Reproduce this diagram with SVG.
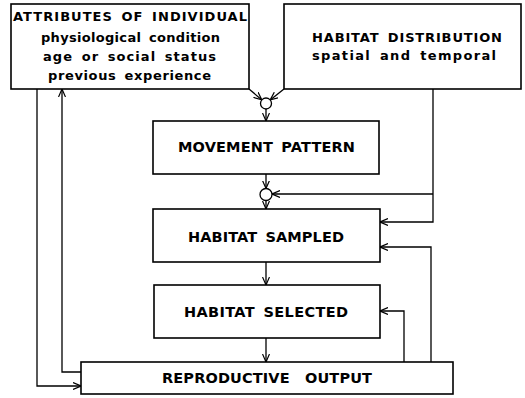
<svg xmlns="http://www.w3.org/2000/svg" width="525" height="398" viewBox="0 0 525 398">
<style>
rect.box{fill:#fff;stroke:#000;stroke-width:1.6}
text{font-family:"DejaVu Sans","Liberation Sans",sans-serif;font-weight:bold;fill:#000;word-spacing:3px}
.t1{font-size:13px}
.t2{font-size:14.5px}
.c{fill:none;stroke:#000;stroke-width:1.3}
circle.j{fill:#fff;stroke:#000;stroke-width:1.3}
</style>
<defs>
<marker id="ah" viewBox="0 0 8 8" refX="8" refY="4" markerWidth="8" markerHeight="8" markerUnits="userSpaceOnUse" orient="auto">
<path d="M0,0.5 L8,4 L0,7.5" fill="none" stroke="#000" stroke-width="1.2"/>
</marker>
</defs>
<g id="connectors">
<path class="c" d="M249,89 L261.8,99.9" marker-end="url(#ah)"/>
<path class="c" d="M284,89 L270.2,99.9" marker-end="url(#ah)"/>
<path class="c" d="M266,109 V121" marker-end="url(#ah)"/>
<path class="c" d="M266,174 V188.5" marker-end="url(#ah)"/>
<path class="c" d="M433,89 V222 H380" marker-end="url(#ah)"/>
<path class="c" d="M433,194 H272" marker-end="url(#ah)"/>
<path class="c" d="M266,200.5 V209" marker-end="url(#ah)"/>
<path class="c" d="M266,262 V285" marker-end="url(#ah)"/>
<path class="c" d="M266,338 V362" marker-end="url(#ah)"/>
<path class="c" d="M404,362 V311 H380" marker-end="url(#ah)"/>
<path class="c" d="M431,362 V247 H380" marker-end="url(#ah)"/>
<path class="c" d="M37,89 V386 H81" marker-end="url(#ah)"/>
<path class="c" d="M81,372 H62 V89" marker-end="url(#ah)"/>
<circle class="j" cx="266" cy="103.5" r="5.5"/>
<circle class="j" cx="266" cy="194.5" r="6"/>
</g>
<g id="attributes">
<rect class="box" x="11" y="4" width="238" height="85"/>
<text class="t1" x="13" y="21" textLength="234" lengthAdjust="spacing">ATTRIBUTES OF INDIVIDUAL</text>
<text class="t1" x="41" y="42" textLength="179" lengthAdjust="spacing">physiological condition</text>
<text class="t1" x="43" y="61" textLength="173" lengthAdjust="spacing">age or social status</text>
<text class="t1" x="48" y="80" textLength="163" lengthAdjust="spacing">previous experience</text>
</g>
<g id="habitat-distribution">
<rect class="box" x="284" y="4" width="237" height="85"/>
<text class="t1" x="312" y="42" textLength="190" lengthAdjust="spacing">HABITAT DISTRIBUTION</text>
<text class="t1" x="312" y="60" textLength="184" lengthAdjust="spacing">spatial and temporal</text>
</g>
<g id="movement-pattern">
<rect class="box" x="153" y="121" width="226" height="53"/>
<text class="t2" x="178" y="152" textLength="177" lengthAdjust="spacing">MOVEMENT PATTERN</text>
</g>
<g id="habitat-sampled">
<rect class="box" x="153" y="209" width="227" height="53"/>
<text class="t2" x="188" y="242" textLength="156" lengthAdjust="spacing">HABITAT SAMPLED</text>
</g>
<g id="habitat-selected">
<rect class="box" x="154" y="285" width="226" height="53"/>
<text class="t2" x="184" y="317" textLength="164" lengthAdjust="spacing">HABITAT SELECTED</text>
</g>
<g id="reproductive-output">
<rect class="box" x="81" y="362" width="372" height="32"/>
<text class="t2" x="162" y="383" textLength="210" lengthAdjust="spacing" style="word-spacing:10px">REPRODUCTIVE OUTPUT</text>
</g>
</svg>
